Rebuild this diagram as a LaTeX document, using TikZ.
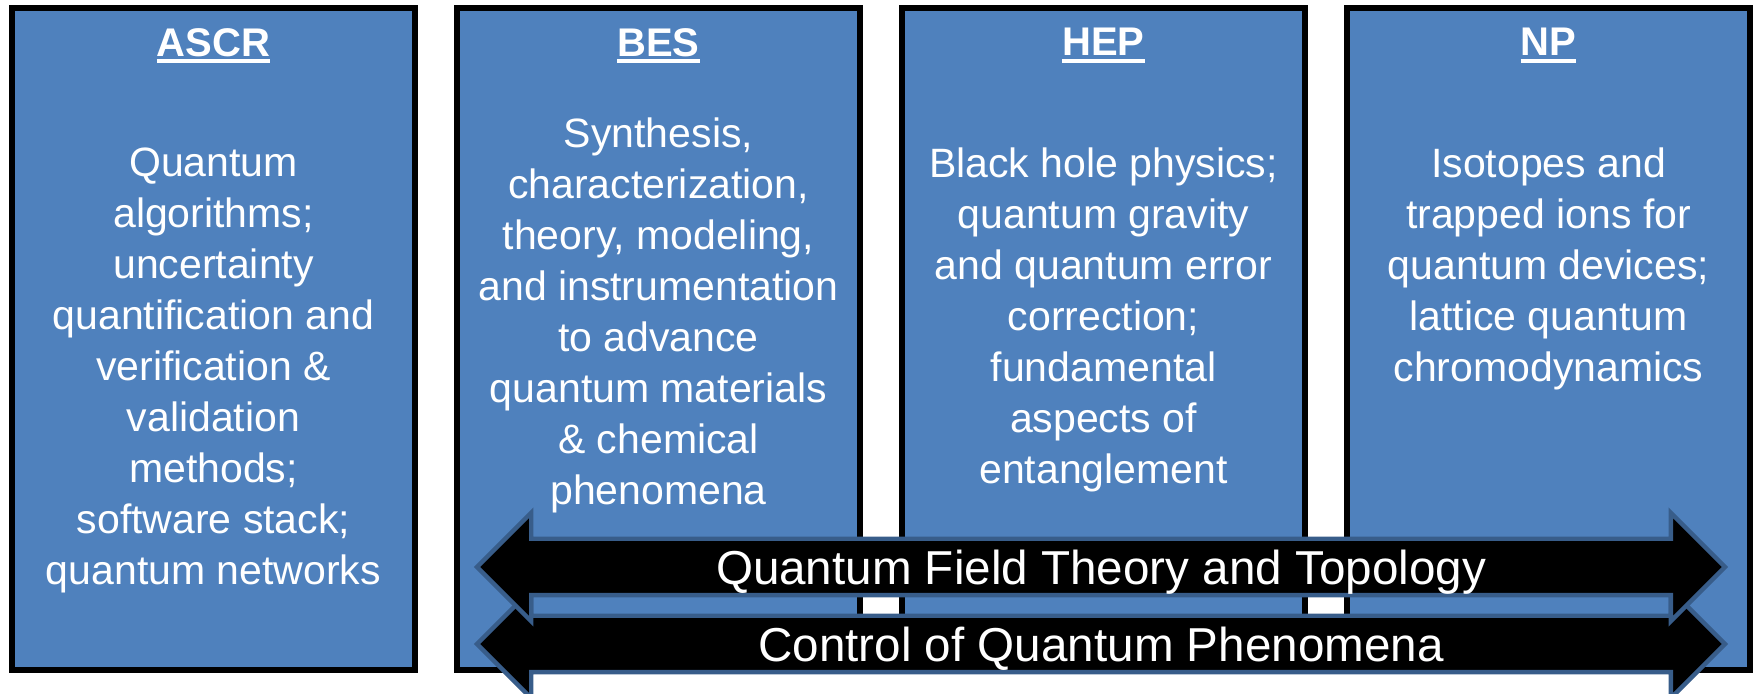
\documentclass[tikz,border=0pt]{standalone}
\usepackage{fontspec}
\setmainfont{Liberation Sans}
\usepackage{xcolor}
\usetikzlibrary{positioning,shapes.arrows}

\definecolor{unitblue}{HTML}{4F81BD}
\definecolor{arrowedge}{HTML}{385D8A}

% bold title with a thick underline
\newcommand{\unitname}[1]{\setbox0\hbox{\bfseries #1}\leavevmode\rlap{\rule[-3.5pt]{\wd0}{2pt}}\box0}

\begin{document}
\begin{tikzpicture}[x=0.5pt,y=-0.5pt,
    unitbox/.style={draw=black, line width=3pt, fill=unitblue, minimum width=201.5pt, minimum height=331pt, inner sep=0pt, outer sep=0pt},
    unittitle/.style={text=white, font=\fontsize{20}{24}\selectfont, inner sep=0pt},
    unittext/.style={text=white, align=center, font=\fontsize{20.5}{25.5}\selectfont, inner sep=0pt},
    bothways/.style={double arrow, double arrow head extend=13pt, draw=arrowedge, line width=2.2pt, fill=black, text=white, minimum height=624pt, text height=22pt, text depth=4pt, inner ysep=0pt, font=\fontsize{23.8}{28}\selectfont}]
        \useasboundingbox (0,0) rectangle (1753,694);

        % Office boxes
        \node[unitbox] (ascr) at (213.5,339) {};
        \node[unitbox, right=21pt of ascr] (bes) {};
        \node[unitbox, right=21pt of bes] (hep) {};
        \node[unitbox, right=21pt of hep] (np) {};

        % Titles
        \node[unittitle, below=10pt of ascr.north] (ascrtitle) {\unitname{ASCR}};
        \node[unittitle, below=10pt of bes.north] (bestitle) {\unitname{BES}};
        \node[unittitle, below=10pt of hep.north] (heptitle) {\unitname{HEP}};
        \node[unittitle, below=10pt of np.north] (nptitle) {\unitname{NP}};

        % Research topics
        \node[unittext, below=69.5pt of ascr.north] (ascrtext) {Quantum\\algorithms;\\uncertainty\\quantification and\\verification \&\\validation\\methods;\\software stack;\\quantum networks};
        \node[unittext, below=54.5pt of bes.north] (bestext) {Synthesis,\\characterization,\\theory, modeling,\\and instrumentation\\to advance\\quantum materials\\\& chemical\\phenomena};
        \node[unittext, below=69.5pt of hep.north] (heptext) {Black hole physics;\\quantum gravity\\and quantum error\\correction;\\fundamental\\aspects of\\entanglement};
        \node[unittext, below=69.5pt of np.north] (nptext) {Isotopes and\\trapped ions for\\quantum devices;\\lattice quantum\\chromodynamics};

        % Cross-cutting arrows
        \node[bothways] (control) at (1101,644) {Control of Quantum Phenomena};
        \node[bothways] (qft) at (1101,567) {Quantum Field Theory and Topology};

    \end{tikzpicture}
\end{document}
